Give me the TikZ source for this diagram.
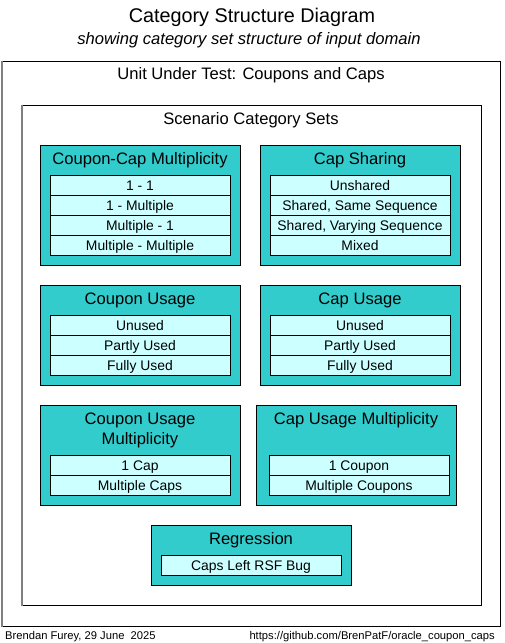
\documentclass[tikz,border=0pt]{standalone}
\usepackage{fontspec}
\setmainfont{Liberation Sans}
\definecolor{grpfill}{HTML}{33CCCC}
\definecolor{itemfill}{HTML}{CCFFFF}
\definecolor{edgegray}{HTML}{808080}
\newcommand{\fsTitle}{\fontsize{19.8}{23}\selectfont}
\newcommand{\fsSub}{\fontsize{16.6}{20}\selectfont\itshape}
\newcommand{\fsHead}{\fontsize{16.6}{20}\selectfont}
\newcommand{\fsItem}{\fontsize{13.9}{16}\selectfont}
\newcommand{\fsFoot}{\fontsize{11.2}{13}\selectfont}
\begin{document}
\begin{tikzpicture}[x=1pt,y=-1pt,
  frame/.style={draw=black,line width=1pt,inner sep=0pt,fill=white},
  grp/.style={draw=black,line width=1pt,fill=grpfill,inner sep=0pt,minimum width=200pt},
  item/.style={draw=black,line width=1pt,fill=itemfill,inner sep=0pt,minimum width=180pt,minimum height=20pt,font=\fsItem,text height=10pt,text depth=0pt},
  head/.style={inner sep=0pt,font=\fsHead,text height=12pt,text depth=0pt},
  txt/.style={inner sep=0pt},
]
\useasboundingbox (0,0) rectangle (504,643);
\fill[white] (0,0) rectangle (504,643);

\node[txt,font=\fsTitle,text height=14.2pt,text depth=0pt] (title) at (252,15) {Category Structure Diagram};
\node[txt,font=\fsSub,text height=12pt,text depth=0pt] (subtitle) at (249,38) {showing category set structure of input domain};

% outer frame
\node[frame,minimum width=498pt,minimum height=565pt] (outer) at (251,343.5) {};
\draw[edgegray,line width=2pt] (outer.north west) -- (outer.south west);
\node[head] (uut) at (251,73) {Unit Under Test: Coupons and Caps};

% inner frame
\node[frame,minimum width=459pt,minimum height=500pt] (inner) at (251.5,355) {};
\draw[edgegray,line width=2pt] (inner.north west) -- (inner.south west);
\node[head] (scs) at (251,118) {Scenario Category Sets};

% group 1
\node[grp,minimum height=120pt] (g1) at (140,205) {};
\node[head] (g1t) at (140,158) {Coupon-Cap Multiplicity};
\node[item] (g1a) at (140,185) {1 - 1};
\node[item] (g1b) at (140,205) {1 - Multiple};
\node[item] (g1c) at (140,225) {Multiple - 1};
\node[item] (g1d) at (140,245) {Multiple - Multiple};

% group 2
\node[grp,minimum height=120pt] (g2) at (360,205) {};
\node[head] (g2t) at (360,158) {Cap Sharing};
\node[item] (g2a) at (360,185) {Unshared};
\node[item] (g2b) at (360,205) {Shared, Same Sequence};
\node[item] (g2c) at (360,225) {Shared, Varying Sequence};
\node[item] (g2d) at (360,245) {Mixed};

% group 3
\node[grp,minimum height=100pt] (g3) at (140,335) {};
\node[head] (g3t) at (140,298) {Coupon Usage};
\node[item] (g3a) at (140,325) {Unused};
\node[item] (g3b) at (140,345) {Partly Used};
\node[item] (g3c) at (140,365) {Fully Used};

% group 4
\node[grp,minimum height=100pt] (g4) at (360,335) {};
\node[head] (g4t) at (360,298) {Cap Usage};
\node[item] (g4a) at (360,325) {Unused};
\node[item] (g4b) at (360,345) {Partly Used};
\node[item] (g4c) at (360,365) {Fully Used};

% group 5
\node[grp,minimum height=100pt] (g5) at (140,455) {};
\node[head] (g5t1) at (140,418) {Coupon Usage};
\node[head] (g5t2) at (140,438) {Multiplicity};
\node[item] (g5a) at (140,465) {1 Cap};
\node[item] (g5b) at (140,485) {Multiple Caps};

% group 6
\node[grp,minimum height=100pt] (g6) at (356,455) {};
\node[head] (g6t) at (356,418) {Cap Usage Multiplicity};
\node[item] (g6a) at (359,465) {1 Coupon};
\node[item] (g6b) at (359,485) {Multiple Coupons};

% group 7
\node[grp,minimum height=60pt] (g7) at (251,555) {};
\node[head] (g7t) at (251,538) {Regression};
\node[item] (g7a) at (251,565) {Caps Left RSF Bug};

% footer
\node[txt,font=\fsFoot,anchor=base west] (author) at (5,639) {Brendan Furey, 29 June\ \ 2025};
\node[txt,font=\fsFoot,anchor=base east] (url) at (495,639) {https://github.com/BrenPatF/oracle\_coupon\_caps};
\end{tikzpicture}
\end{document}
